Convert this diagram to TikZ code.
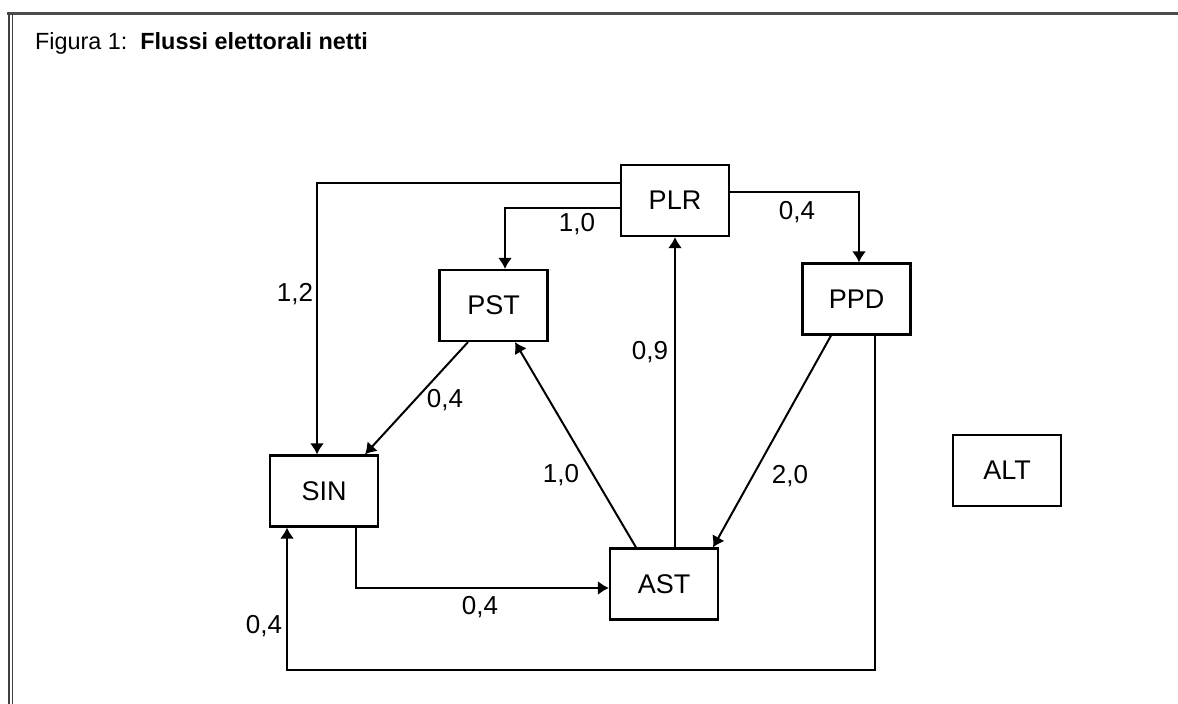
\documentclass[tikz,border=0pt]{standalone}
\usepackage{fontspec}
\setmainfont{Liberation Sans}
\usetikzlibrary{arrows.meta}
\tikzset{
	party/.style={draw, line width=1.1pt, minimum width=54pt, minimum height=35.5pt, inner sep=0pt, font=\fontsize{13.5}{16}\selectfont},
	flow/.style={line width=1pt, -{Latex[length=5.5pt,width=7pt]}},
	quota/.style={inner sep=0pt, font=\fontsize{13}{16}\selectfont}
}

\begin{document}
\begin{tikzpicture}[x=0.5pt, y=-0.5pt]
		%%%%% START %%%%%
		\useasboundingbox (0, 0) rectangle (1178, 704);
		
		\draw[line width=1.6pt, color=black!70] (7, 13.5) -- (1178, 13.5);
		\draw[line width=1pt, color=black!75] (8.5, 12) -- (8.5, 704);
		\draw[line width=0.6pt, color=black!75] (12.5, 14) -- (12.5, 704);
		
		\node[anchor=base west, font=\fontsize{11.7}{14}\selectfont] (title) at (28, 50) {Figura 1:\ \ \textbf{Flussi elettorali netti}};
		
		\node[party] (PLR) at (675, 200.5) {PLR};
		\node[party] (PST) at (493.5, 305.5) {PST};
		\node[party] (PPD) at (856.5, 299) {PPD};
		\node[party] (SIN) at (324, 491) {SIN};
		\node[party] (AST) at (664, 584) {AST};
		\node[party] (ALT) at (1007, 470.5) {ALT};
		
		\draw[flow] ([yshift=8.5pt]PLR.west) -| ([xshift=-3.5pt]SIN.north);
		\draw[flow] ([yshift=-3.75pt]PLR.west) -| ([xshift=5.75pt]PST.north);
		\draw[flow] ([yshift=4.25pt]PLR.east) -| ([xshift=1.25pt]PPD.north);
		\draw[flow] (AST.north -| PLR.south) -- (PLR.south);
		\draw[flow] ([xshift=-12.75pt]PPD.south) -- ([xshift=24.5pt]AST.north);
		\draw[flow] ([xshift=9.25pt]PPD.south) |- ([xshift=-18.5pt, yshift=-71pt]SIN.south) -- ([xshift=-18.5pt]SIN.south);
		\draw[flow] ([xshift=16pt]SIN.south) |- ([yshift=-2pt]AST.west);
		\draw[flow] ([xshift=-14pt]AST.north) -- ([xshift=10.75pt]PST.south);
		\draw[flow] ([xshift=-12.75pt]PST.south) -- ([xshift=20.5pt]SIN.north);
		
		\node[quota] (qSIN) at (295, 294) {1,2};
		\node[quota] (qPST) at (577, 224) {1,0};
		\node[quota] (qPPD) at (797, 212) {0,4};
		\node[quota] (qPLR) at (650, 352) {0,9};
		\node[quota] (qAST) at (790, 476) {2,0};
		\node[quota] (qPSTb) at (561, 475) {1,0};
		\node[quota] (qSINb) at (445, 400) {0,4};
		\node[quota] (qASTb) at (480, 607) {0,4};
		\node[quota] (qSINc) at (264, 626) {0,4};
		
		%%%%% END %%%%%
	\end{tikzpicture}
\end{document}
